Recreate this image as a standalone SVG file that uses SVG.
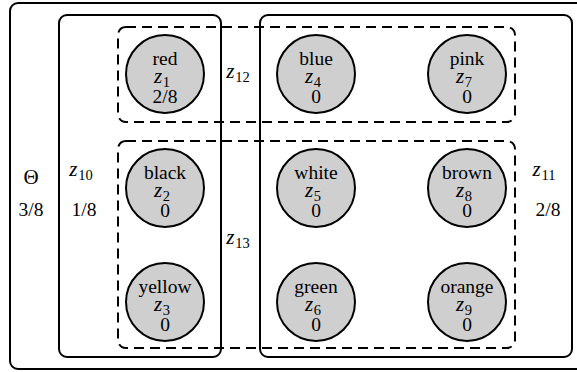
<svg xmlns="http://www.w3.org/2000/svg" width="577" height="372" viewBox="0 0 577 372">
  <style>
    .box { fill: none; stroke: #000; stroke-width: 2; }
    .grp { fill: none; stroke: #000; stroke-width: 2; stroke-dasharray: 10 6; }
    .node circle { fill: #cfcfcf; stroke: #000; stroke-width: 2; }
    text { font-family: "Liberation Serif", "Times New Roman", serif; font-size: 19.5px; fill: #000; text-anchor: middle; }
    .var { font-style: italic; font-size: 21px; }
    .sub { font-size: 14.5px; font-style: normal; }
  </style>
  <rect width="577" height="372" fill="#fff"/>

  <!-- plates: outer Θ plate runs past the right edge -->
  <g id="plates">
    <rect class="box" x="10" y="3" width="600" height="366" rx="8"/>
    <rect class="box" x="59" y="15" width="162" height="342" rx="8"/>
    <rect class="box" x="260" y="15" width="312" height="342" rx="8"/>
    <rect class="grp" x="118" y="27" width="397" height="95" rx="8"/>
    <rect class="grp" x="118" y="141" width="397" height="207" rx="8"/>
  </g>

  <!-- plate labels -->
  <g id="labels">
    <text x="31" y="184" style="font-size:21px">Θ</text>
    <text x="31" y="216">3/8</text>
    <text x="81" y="176" class="var">z<tspan class="sub" dy="4" dx="1">10</tspan></text>
    <text x="84" y="216">1/8</text>
    <text x="544" y="176" class="var">z<tspan class="sub" dy="4" dx="1">11</tspan></text>
    <text x="548" y="216">2/8</text>
    <text x="238" y="78" class="var">z<tspan class="sub" dy="4" dx="1">12</tspan></text>
    <text x="238" y="244" class="var">z<tspan class="sub" dy="4" dx="1">13</tspan></text>
  </g>

  <!-- nodes -->
  <g id="n1" class="node" transform="translate(165,74)">
    <circle r="39"/>
    <text y="-9">red</text>
    <text y="9" class="var" dx="-3">z<tspan class="sub" dy="4" dx="0.5">1</tspan></text>
    <text y="29">2/8</text>
  </g>
  <g id="n2" class="node" transform="translate(165,188)">
    <circle r="39"/>
    <text y="-9">black</text>
    <text y="9" class="var" dx="-3">z<tspan class="sub" dy="4" dx="0.5">2</tspan></text>
    <text y="29">0</text>
  </g>
  <g id="n3" class="node" transform="translate(165,302)">
    <circle r="39"/>
    <text y="-9">yellow</text>
    <text y="9" class="var" dx="-3">z<tspan class="sub" dy="4" dx="0.5">3</tspan></text>
    <text y="29">0</text>
  </g>
  <g id="n4" class="node" transform="translate(316,74)">
    <circle r="39"/>
    <text y="-9">blue</text>
    <text y="9" class="var" dx="-3">z<tspan class="sub" dy="4" dx="0.5">4</tspan></text>
    <text y="29">0</text>
  </g>
  <g id="n5" class="node" transform="translate(316,188)">
    <circle r="39"/>
    <text y="-9">white</text>
    <text y="9" class="var" dx="-3">z<tspan class="sub" dy="4" dx="0.5">5</tspan></text>
    <text y="29">0</text>
  </g>
  <g id="n6" class="node" transform="translate(316,302)">
    <circle r="39"/>
    <text y="-9">green</text>
    <text y="9" class="var" dx="-3">z<tspan class="sub" dy="4" dx="0.5">6</tspan></text>
    <text y="29">0</text>
  </g>
  <g id="n7" class="node" transform="translate(467,74)">
    <circle r="39"/>
    <text y="-9">pink</text>
    <text y="9" class="var" dx="-3">z<tspan class="sub" dy="4" dx="0.5">7</tspan></text>
    <text y="29">0</text>
  </g>
  <g id="n8" class="node" transform="translate(467,188)">
    <circle r="39"/>
    <text y="-9">brown</text>
    <text y="9" class="var" dx="-3">z<tspan class="sub" dy="4" dx="0.5">8</tspan></text>
    <text y="29">0</text>
  </g>
  <g id="n9" class="node" transform="translate(467,302)">
    <circle r="39"/>
    <text y="-9">orange</text>
    <text y="9" class="var" dx="-3">z<tspan class="sub" dy="4" dx="0.5">9</tspan></text>
    <text y="29">0</text>
  </g>

  <!-- plate diagram: no edges between nodes -->
  <g id="connectors"/>
</svg>
